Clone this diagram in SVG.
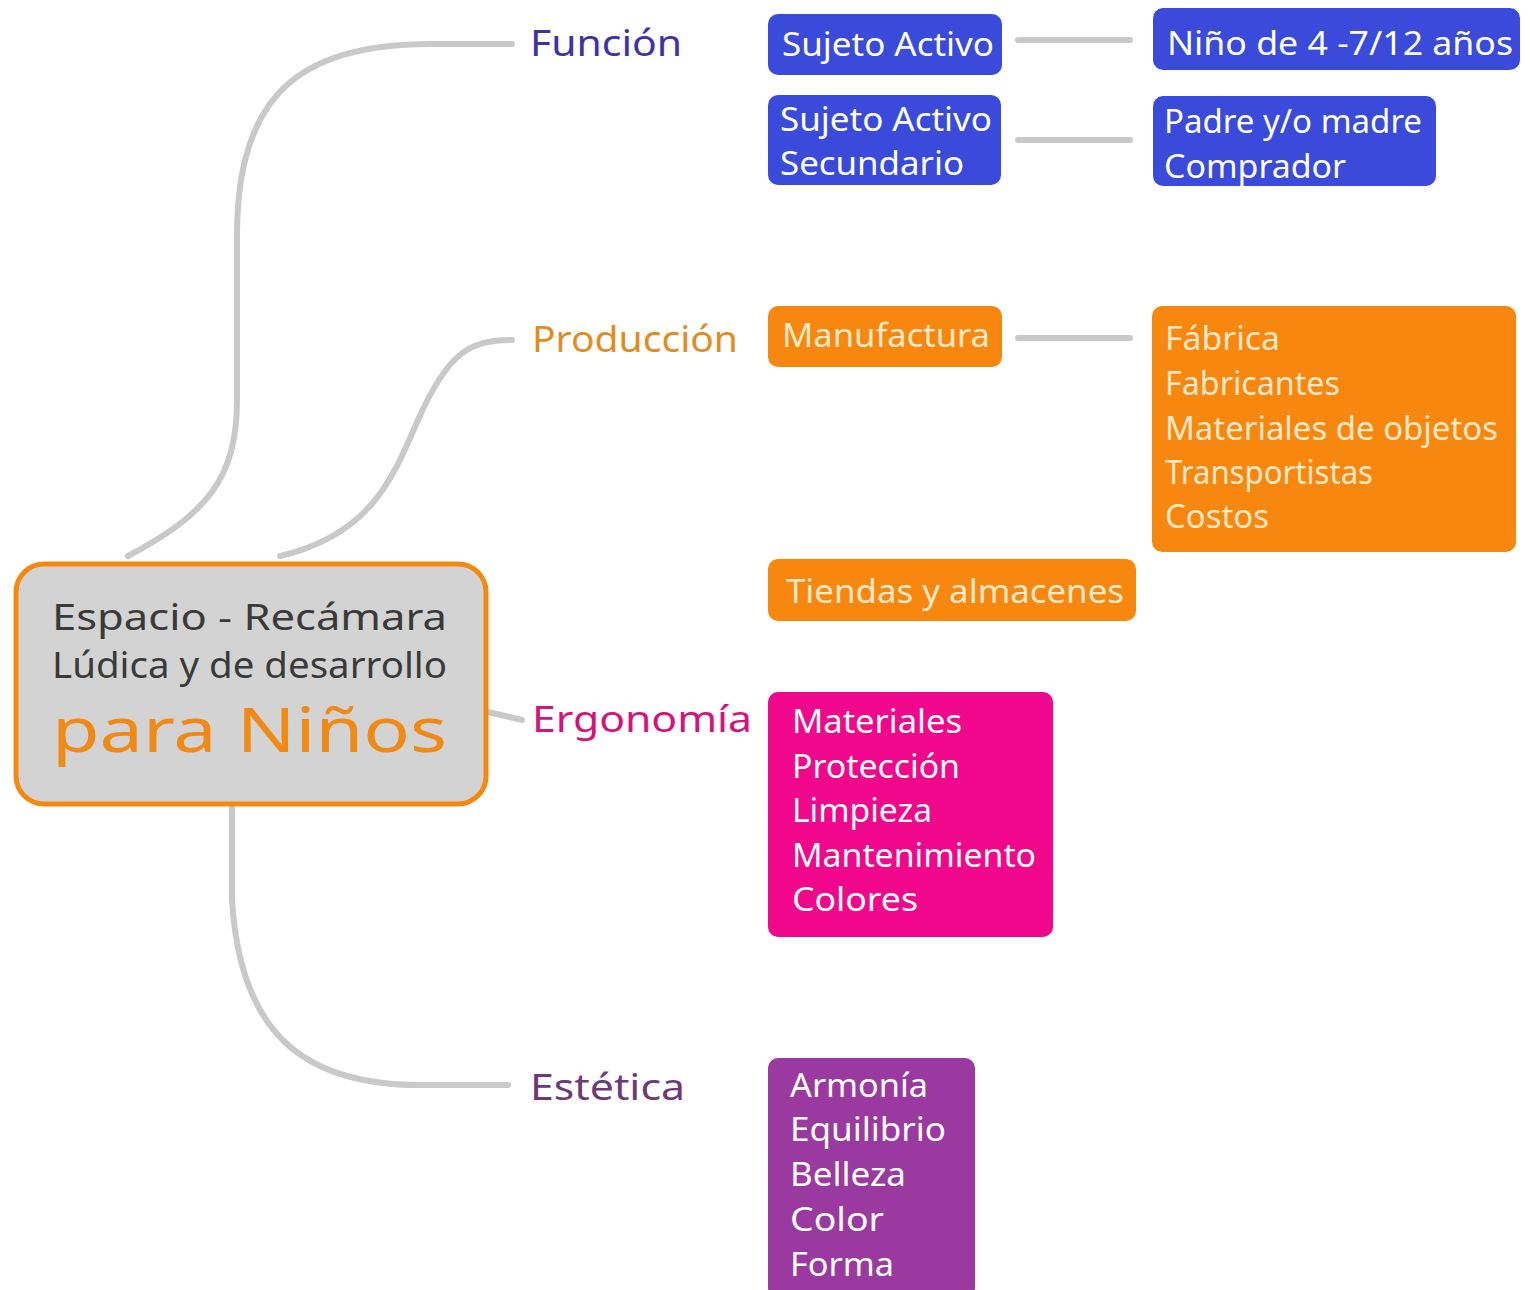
<svg xmlns="http://www.w3.org/2000/svg" width="1535" height="1290" viewBox="0 0 1535 1290">
<style>
.con{fill:none;stroke:#c9c9c9;stroke-width:6;stroke-linecap:round}
.box{stroke:none}
.bt{font-family:"Noto Sans","Liberation Sans",sans-serif;font-size:33px;fill:#ffffff}
.ot{font-family:"Noto Sans","Liberation Sans",sans-serif;font-size:32px;fill:#fbe9c8}
.lbl{font-family:"Noto Sans","Liberation Sans",sans-serif;font-size:36px}
.ct{font-family:"Noto Sans","Liberation Sans",sans-serif;fill:#3a3a3a}
</style>
<rect width="1535" height="1290" fill="#ffffff"/>
<g id="connectors">
<path class="con" d="M128,556 C205,515 237,480 237,400 L237,235 C237,95 300,44 430,44 L512,44"/>
<path class="con" d="M280,556 C370,535 392,480 418,420 C448,352 470,340 512,340"/>
<path class="con" d="M488,712 L522,720"/>
<path class="con" d="M232,808 L232,900 C240,1030 300,1085 420,1085 L508,1085"/>
<path class="con" d="M1018,40 L1130,40"/>
<path class="con" d="M1018,140 L1130,140"/>
<path class="con" d="M1018,338 L1130,338"/>
</g>
<g id="center">
<rect x="16" y="564" width="470" height="240" rx="28" fill="#d3d3d3" stroke="#f5890f" stroke-width="5"/>
<text class="ct" x="52" y="630" font-size="37" textLength="395" lengthAdjust="spacingAndGlyphs">Espacio - Recámara</text>
<text class="ct" x="52" y="678" font-size="37" textLength="395" lengthAdjust="spacingAndGlyphs">Lúdica y de desarrollo</text>
<text x="52" y="752" font-family="Noto Sans, Liberation Sans, sans-serif" font-size="62" fill="#f08a14" textLength="395" lengthAdjust="spacingAndGlyphs">para Niños</text>
</g>
<g id="funcion"><text class="lbl" x="530" y="56" fill="#3f32a8" textLength="152" lengthAdjust="spacingAndGlyphs">Función</text></g>
<g id="produccion"><text class="lbl" x="532" y="352" fill="#e28c1f" textLength="206" lengthAdjust="spacingAndGlyphs">Producción</text></g>
<g id="ergonomia"><text class="lbl" x="532" y="732" fill="#d4137c" textLength="220" lengthAdjust="spacingAndGlyphs">Ergonomía</text></g>
<g id="estetica"><text class="lbl" x="530" y="1100" fill="#6b3a7a" textLength="155" lengthAdjust="spacingAndGlyphs">Estética</text></g>
<g id="sujeto-activo">
<rect class="box" x="768" y="14" width="234" height="61" rx="10" fill="#3a4bdb"/>
<text class="bt" x="782" y="56" textLength="212" lengthAdjust="spacingAndGlyphs">Sujeto Activo</text>
</g>
<g id="sujeto-secundario">
<rect class="box" x="768" y="95" width="233" height="90" rx="10" fill="#3a4bdb"/>
<text class="bt" x="780" y="131" textLength="212" lengthAdjust="spacingAndGlyphs">Sujeto Activo</text>
<text class="bt" x="780" y="175" textLength="184" lengthAdjust="spacingAndGlyphs">Secundario</text>
</g>
<g id="nino">
<rect class="box" x="1153" y="8" width="367" height="62" rx="10" fill="#3a4bdb"/>
<text class="bt" x="1167" y="55" textLength="346" lengthAdjust="spacingAndGlyphs">Niño de 4 -7/12 años</text>
</g>
<g id="padre">
<rect class="box" x="1153" y="96" width="283" height="90" rx="10" fill="#3a4bdb"/>
<text class="bt" x="1164" y="133" textLength="258" lengthAdjust="spacingAndGlyphs">Padre y/o madre</text>
<text class="bt" x="1164" y="178" textLength="182" lengthAdjust="spacingAndGlyphs">Comprador</text>
</g>
<g id="manufactura">
<rect class="box" x="768" y="306" width="234" height="61" rx="10" fill="#f7870f"/>
<text class="ot" x="782" y="347" textLength="208" lengthAdjust="spacingAndGlyphs">Manufactura</text>
</g>
<g id="fabrica">
<rect class="box" x="1152" y="306" width="364" height="246" rx="10" fill="#f7870f"/>
<text class="ot" x="1165" y="350" textLength="115" lengthAdjust="spacingAndGlyphs">Fábrica</text>
<text class="ot" x="1165" y="395" textLength="175" lengthAdjust="spacingAndGlyphs">Fabricantes</text>
<text class="ot" x="1165" y="440" textLength="333" lengthAdjust="spacingAndGlyphs">Materiales de objetos</text>
<text class="ot" x="1165" y="484" textLength="208" lengthAdjust="spacingAndGlyphs">Transportistas</text>
<text class="ot" x="1165" y="528" textLength="104" lengthAdjust="spacingAndGlyphs">Costos</text>
</g>
<g id="tiendas">
<rect class="box" x="768" y="559" width="368" height="62" rx="10" fill="#f7870f"/>
<text class="ot" x="786" y="603" textLength="338" lengthAdjust="spacingAndGlyphs">Tiendas y almacenes</text>
</g>
<g id="ergonomia-items">
<rect class="box" x="768" y="692" width="285" height="245" rx="10" fill="#f0078c"/>
<text class="bt" x="792" y="733" textLength="170" lengthAdjust="spacingAndGlyphs">Materiales</text>
<text class="bt" x="792" y="778" textLength="168" lengthAdjust="spacingAndGlyphs">Protección</text>
<text class="bt" x="792" y="822" textLength="140" lengthAdjust="spacingAndGlyphs">Limpieza</text>
<text class="bt" x="792" y="867" textLength="244" lengthAdjust="spacingAndGlyphs">Mantenimiento</text>
<text class="bt" x="792" y="911" textLength="126" lengthAdjust="spacingAndGlyphs">Colores</text>
</g>
<g id="estetica-items">
<rect class="box" x="768" y="1058" width="207" height="240" rx="10" fill="#9a3aa0"/>
<text class="bt" x="790" y="1097" textLength="138" lengthAdjust="spacingAndGlyphs">Armonía</text>
<text class="bt" x="790" y="1141" textLength="156" lengthAdjust="spacingAndGlyphs">Equilibrio</text>
<text class="bt" x="790" y="1186" textLength="116" lengthAdjust="spacingAndGlyphs">Belleza</text>
<text class="bt" x="790" y="1231" textLength="94" lengthAdjust="spacingAndGlyphs">Color</text>
<text class="bt" x="790" y="1276" textLength="104" lengthAdjust="spacingAndGlyphs">Forma</text>
</g>
</svg>
